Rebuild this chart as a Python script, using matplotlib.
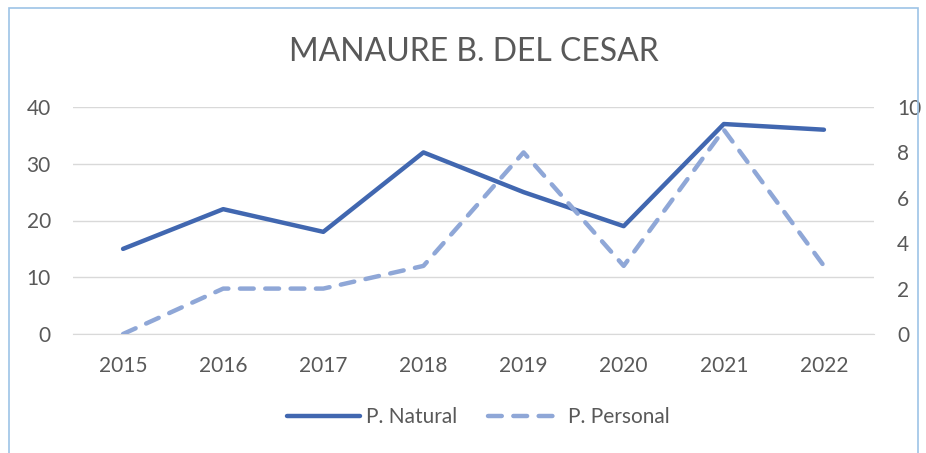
import matplotlib
matplotlib.use("Agg")
import matplotlib.pyplot as plt
from matplotlib.patches import Rectangle
from matplotlib.lines import Line2D

years = ["2015", "2016", "2017", "2018", "2019", "2020", "2021", "2022"]
natural = [15, 22, 18, 32, 25, 19, 37, 36]
personal = [0, 2, 2, 3, 8, 3, 9, 3]

plt.rcParams['font.family'] = ['Lato', 'DejaVu Sans']
W, H = 926, 453
fig = plt.figure(figsize=(W/100, H/100), dpi=100)
fig.patch.set_facecolor('white')

# chart frame
fig.patches.append(Rectangle((9/W, -0.05), (918-9)/W, 1.05 - 8/H, transform=fig.transFigure,
                             fill=False, edgecolor='#9DC3E6', linewidth=1.2))

x0, x1 = 73, 874
y_top, y_bot = 107, 334
ax = fig.add_axes([x0/W, 1 - y_bot/H, (x1-x0)/W, (y_bot-y_top)/H])
ax2 = ax.twinx()

xs = list(range(len(years)))
c_nat = '#4167B0'
c_per = '#8FA7D7'
dash = (3.1, 2.6)
ax.plot(xs, natural, color=c_nat, lw=3.2, solid_capstyle='round', solid_joinstyle='round', zorder=3)
ax2.plot(xs, personal, color=c_per, lw=3.2, dashes=dash, dash_capstyle='round', zorder=3)

ax.set_xlim(-0.5, len(years) - 0.5)
ax.set_ylim(0, 40)
ax2.set_ylim(0, 10)
ax.set_yticks([0, 10, 20, 30, 40])
ax2.set_yticks([0, 2, 4, 6, 8, 10])
ax.set_xticks(xs)
ax.set_xticklabels(years)
ax.grid(axis='y', color='#D9D9D9', lw=1.0)
ax.set_axisbelow(True)
for a in (ax, ax2):
    for s in a.spines.values():
        s.set_visible(False)
    a.tick_params(length=0, labelsize=15, colors='#595959')
ax.spines['bottom'].set_visible(True)
ax.spines['bottom'].set_color('#D9D9D9')
ax.tick_params(axis='y', pad=16)
ax.tick_params(axis='x', pad=16)
ax2.tick_params(axis='y', pad=16.5)

fig.text(474/W, 1 - 52/H, "MANAURE B. DEL CESAR", ha='center', va='center', fontsize=23, color='#595959')

handles = [Line2D([], [], color=c_nat, lw=3.2, solid_capstyle='round'),
           Line2D([], [], color=c_per, lw=3.2, dashes=dash, dash_capstyle='round')]
fig.legend(handles, ["P. Natural", "P. Personal"], loc='center', bbox_to_anchor=(478/W, 1 - 417/H),
           ncol=2, frameon=False, fontsize=15, labelcolor='#595959', handlelength=3.5,
           columnspacing=1.5, handletextpad=0.3)

fig.savefig("out.png", dpi=100, facecolor='white')
